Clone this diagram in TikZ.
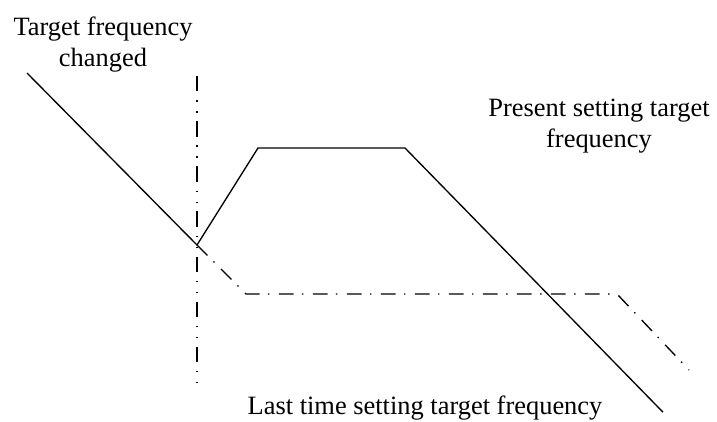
\documentclass[tikz,border=0pt]{standalone}
\usepackage{fontspec}
\setmainfont{Liberation Serif}
\begin{document}
\begin{tikzpicture}[
    lbl/.style={font=\fontsize{18.8pt}{22pt}\selectfont, align=center, inner sep=0pt},
    present/.style={line width=0.95pt},
    last/.style={line width=0.95pt, dash pattern=on 10.5pt off 6pt on 1pt off 6.7pt},
    marker/.style={line width=0.95pt, dash pattern=on 11pt off 6.3pt on 1pt off 6.8pt on 1pt off 6pt}]
    \useasboundingbox (0,0) rectangle (17.925,10.525);

    % Points
    \coordinate (start) at (0.675,8.7);
    \coordinate (change) at (4.925,4.4);
    \coordinate (riseTop) at (6.45,6.825);
    \coordinate (fallTop) at (10.125,6.825);
    \coordinate (presentEnd) at (16.575,0.22);
    \coordinate (lastKnee) at (6.15,3.175);
    \coordinate (lastFall) at (15.425,3.175);
    \coordinate (lastEnd) at (17.225,1.275);
    \coordinate (markTop) at (4.925,8.625);
    \coordinate (markBot) at (4.925,0.825);

    % Labels
    \node[lbl, anchor=north] (changed) at (2.575,10.1) {Target frequency\\changed};
    \node[lbl, anchor=north] (present) at (14.975,8.05) {Present setting target\\frequency};
    \node[lbl, anchor=base] (last) at (10.625,0.175) {Last time setting target frequency};

    % Curves
    \draw[marker] (markTop) -- (markBot);
    \draw[last] (change) -- (lastKnee) -- (lastFall) -- (lastEnd);
    \draw[present] (start) -- (change) -- (riseTop) -- (fallTop) -- (presentEnd);
\end{tikzpicture}
\end{document}
